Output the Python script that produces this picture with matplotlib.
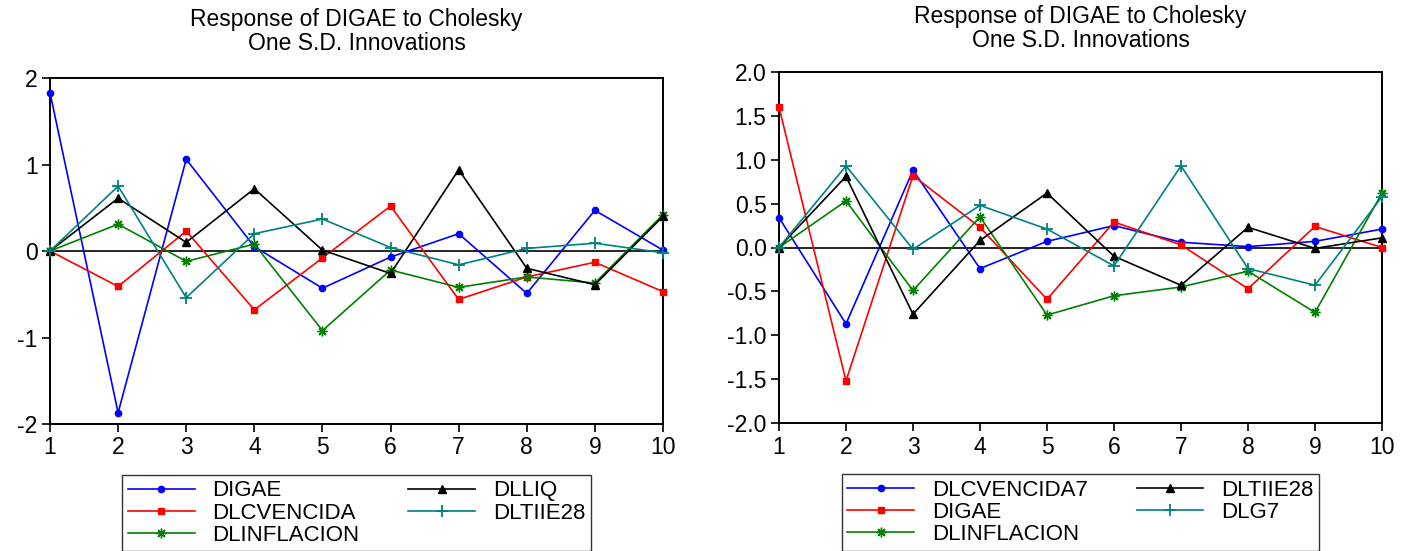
"""Impulse responses of DIGAE, two Cholesky panels side by side."""
import matplotlib as mpl
mpl.use("Agg")
import matplotlib.pyplot as plt
import numpy as np

mpl.rcParams.update({
    "font.family": ["Liberation Sans", "DejaVu Sans"],
    "font.size": 16,
    "axes.linewidth": 1.4,
})

periods = np.arange(1, 11)

# ── left panel ──
left_names = ['DIGAE', 'DLCVENCIDA', 'DLINFLACION', 'DLLIQ', 'DLTIIE28']
left_digae = [1.83, -1.87, 1.06, 0.05, -0.43, -0.07, 0.20, -0.49, 0.47, 0.01]
left_dlcvencida = [0.0, -0.41, 0.23, -0.68, -0.08, 0.52, -0.56, -0.30, -0.13, -0.47]
left_dlinflacion = [0.0, 0.31, -0.12, 0.08, -0.92, -0.22, -0.42, -0.30, -0.37, 0.42]
left_dlliq = [0.0, 0.61, 0.10, 0.72, 0.01, -0.26, 0.94, -0.20, -0.39, 0.40]
left_dltiie28 = [0.0, 0.75, -0.54, 0.20, 0.37, 0.04, -0.16, 0.03, 0.09, -0.02]

# ── right panel ──
right_names = ['DLCVENCIDA7', 'DIGAE', 'DLINFLACION', 'DLTIIE28', 'DLG7']
right_dlcvencida7 = [0.34, -0.87, 0.88, -0.24, 0.07, 0.25, 0.06, 0.01, 0.07, 0.21]
right_digae = [1.60, -1.52, 0.82, 0.23, -0.59, 0.29, 0.03, -0.47, 0.24, 0.0]
right_dlinflacion = [0.0, 0.53, -0.49, 0.35, -0.77, -0.55, -0.45, -0.27, -0.74, 0.62]
right_dltiie28 = [0.0, 0.81, -0.76, 0.08, 0.62, -0.10, -0.43, 0.23, -0.01, 0.11]
right_dlg7 = [0.0, 0.93, -0.02, 0.48, 0.21, -0.21, 0.93, -0.24, -0.43, 0.58]

# colour / marker per slot (same order in both panels)
STYLES = [
    dict(color='#0000FF', marker='o', ms=4.5),
    dict(color='#FF0000', marker='s', ms=4.5),
    dict(color='#008000', marker=(8, 2, 0), ms=7, mew=1.0),
    dict(color='#000000', marker='^', ms=6),
    dict(color='#008080', marker='+', ms=9, mew=1.3),
]

TITLE = 'Response of DIGAE to Cholesky\nOne S.D. Innovations'

fig = plt.figure(figsize=(14.01, 5.51), dpi=100)
ax_l = fig.add_axes([50 / 1401, 1 - 424 / 551, 613 / 1401, 346 / 551])
ax_r = fig.add_axes([779 / 1401, 1 - 423 / 551, 603 / 1401, 351 / 551])

panels = [
    (ax_l, left_names, [left_digae, left_dlcvencida, left_dlinflacion, left_dlliq, left_dltiie28],
     [-2, -1, 0, 1, 2], '{:.0f}', 20),
    (ax_r, right_names, [right_dlcvencida7, right_digae, right_dlinflacion, right_dltiie28, right_dlg7],
     np.arange(-2.0, 2.01, 0.5), '{:.1f}', 18),
]

for ax, names, series, yticks, fmt, pad in panels:
    ax.axhline(0, color='black', lw=1.2, zorder=1)
    handles = []
    for name, vals, st in zip(names, series, STYLES):
        h, = ax.plot(periods, vals, lw=1.2, label=name, zorder=3, clip_on=False, **st)
        handles.append(h)
    ax.set_xlim(1, 10)
    ax.set_ylim(-2, 2)
    ax.set_xticks(periods)
    ax.set_yticks(yticks)
    ax.set_yticklabels([fmt.format(v) for v in yticks])
    ax.tick_params(direction='out', top=False, right=False, length=6, width=1.2, pad=3,
                   labelsize=16.5)
    ax.tick_params(axis='x', pad=3)
    ax.set_title(TITLE, fontsize=16.5, pad=pad, linespacing=1.05)
    leg = ax.legend(handles=handles, ncol=2, loc='upper center',
                    bbox_to_anchor=(0.5, -0.115), fontsize=16,
                    frameon=True, fancybox=False, edgecolor='black',
                    handlelength=3.0, labelspacing=0.05, columnspacing=2.2,
                    borderpad=0.25, handletextpad=0.8)
    leg.get_frame().set_linewidth(1.0)

fig.savefig('out.png', dpi=100, facecolor='white')
